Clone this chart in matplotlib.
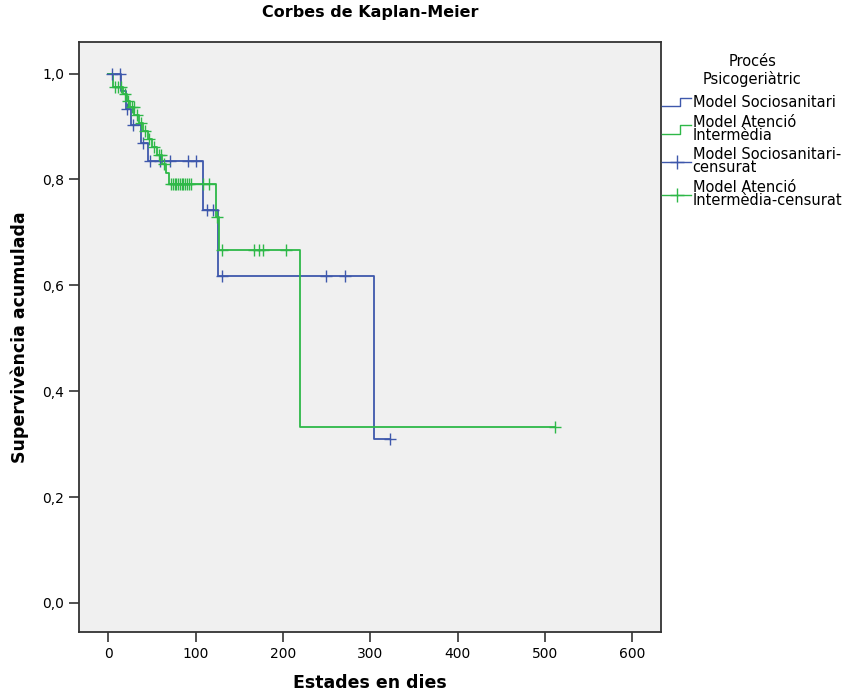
import matplotlib
matplotlib.use("Agg")
import matplotlib.pyplot as plt
import matplotlib.ticker as mticker
from matplotlib.legend_handler import HandlerBase
from matplotlib.lines import Line2D
import numpy as np

# Kaplan-Meier step curves (time in days, cumulative survival)
socio_t = [0, 14, 20, 26, 37, 45, 109, 126, 304, 322]
socio_s = [1.0, 0.967, 0.934, 0.902, 0.869, 0.835, 0.743, 0.618, 0.309, 0.309]
socio_cens = [4, 13, 22, 28, 40, 48, 59, 71, 91, 101, 113, 120, 130, 249, 271, 322]

atenc_t = [0, 5, 17, 21, 25, 30, 35, 40, 45, 50, 56, 62, 66, 70, 123, 127, 220, 512]
atenc_s = [1.0, 0.975, 0.962, 0.949, 0.936, 0.922, 0.907, 0.892, 0.877, 0.862,
           0.847, 0.830, 0.812, 0.792, 0.730, 0.666, 0.333, 0.333]
atenc_cens = [8, 11, 14, 19, 23, 27, 29, 33, 37, 42, 47, 52, 58, 60, 64,
              72, 74, 76, 78, 80, 82, 84, 86, 88, 90, 92, 95, 108, 115, 125,
              130, 167, 172, 177, 204, 512]

labels = ["Model Sociosanitari", "Model Atenció\nIntermèdia",
          "Model Sociosanitari-\ncensurat", "Model Atenció\nIntermèdia-censurat"]

BLUE = "#3E58AC"
GREEN = "#2EB848"


def surv_at(t, s, times):
    t = np.asarray(t)
    s = np.asarray(s)
    idx = np.searchsorted(t, times, side="right") - 1
    return s[idx]


class StepHandler(HandlerBase):
    def create_artists(self, legend, orig_handle, xdescent, ydescent,
                       width, height, fontsize, trans):
        y0 = height * 0.5 - 3
        y1 = height * 0.5 + 3
        xm = -xdescent + width * 0.62
        ln = Line2D([-xdescent, xm, xm, -xdescent + width], [y0, y0, y1, y1],
                    color=orig_handle.get_color(), lw=1.0, transform=trans)
        return [ln]


class CensHandler(HandlerBase):
    def create_artists(self, legend, orig_handle, xdescent, ydescent,
                       width, height, fontsize, trans):
        yc = height * 0.5
        ln = Line2D([-xdescent, -xdescent + width], [yc, yc],
                    color=orig_handle.get_color(), lw=1.0, transform=trans)
        mk = Line2D([-xdescent + width * 0.5], [yc], marker="+", markersize=10,
                    markeredgewidth=1.0, color=orig_handle.get_color(), transform=trans)
        return [ln, mk]


fig = plt.figure(figsize=(8.46, 6.93), dpi=100)
ax = fig.add_axes([0.0934, 0.088, 0.6876, 0.8516])
ax.set_facecolor("#F0F0F0")

l1, = ax.step(socio_t, socio_s, where="post", color=BLUE, lw=1.3)
l2, = ax.step(atenc_t, atenc_s, where="post", color=GREEN, lw=1.3)
c1, = ax.plot(socio_cens, surv_at(socio_t, socio_s, socio_cens), "+",
              color=BLUE, markersize=8, markeredgewidth=1.0)
c2, = ax.plot(atenc_cens, surv_at(atenc_t, atenc_s, atenc_cens), "+",
              color=GREEN, markersize=8, markeredgewidth=1.0)

ax.set_xlim(-33.5, 632.5)
ax.set_ylim(-0.055, 1.06)
ax.set_xticks(np.arange(0, 601, 100))
ax.set_yticks(np.arange(0, 1.01, 0.2))
ax.yaxis.set_major_formatter(mticker.FuncFormatter(lambda v, _: f"{v:.1f}".replace(".", ",")))
ax.tick_params(axis="both", direction="out", length=7, width=1.2, color="#333333",
               labelsize=10)
for sp in ax.spines.values():
    sp.set_color("#333333")
    sp.set_linewidth(1.3)

fig.text((79 + 661) / 2 / 846, 1 - 12 / 693, "Corbes de Kaplan-Meier",
         fontsize=11.5, fontweight="bold", ha="center", va="center")
ax.set_xlabel("Estades en dies", fontsize=12.5, fontweight="bold", labelpad=10)
ax.set_ylabel("Supervivència acumulada", fontsize=12.5, fontweight="bold", labelpad=10)

leg = ax.legend([l1, l2, c1, c2], labels,
                handler_map={l1: StepHandler(), l2: StepHandler(),
                             c1: CensHandler(), c2: CensHandler()},
                title="Procés\nPsicogeriàtric", title_fontsize=10.5, fontsize=10.5,
                loc="upper left", bbox_to_anchor=(662 / 846, 1 - 54 / 693),
                bbox_transform=fig.transFigure, borderaxespad=0,
                borderpad=0, frameon=False, handlelength=2.0, handletextpad=0.1,
                labelspacing=0.3)
for t in leg.get_texts():
    t.set_linespacing(0.85)
leg.get_title().set_linespacing(1.15)
leg.get_title().set_multialignment("center")
leg._legend_box.sep = 6

fig.savefig("out.png", dpi=100)
